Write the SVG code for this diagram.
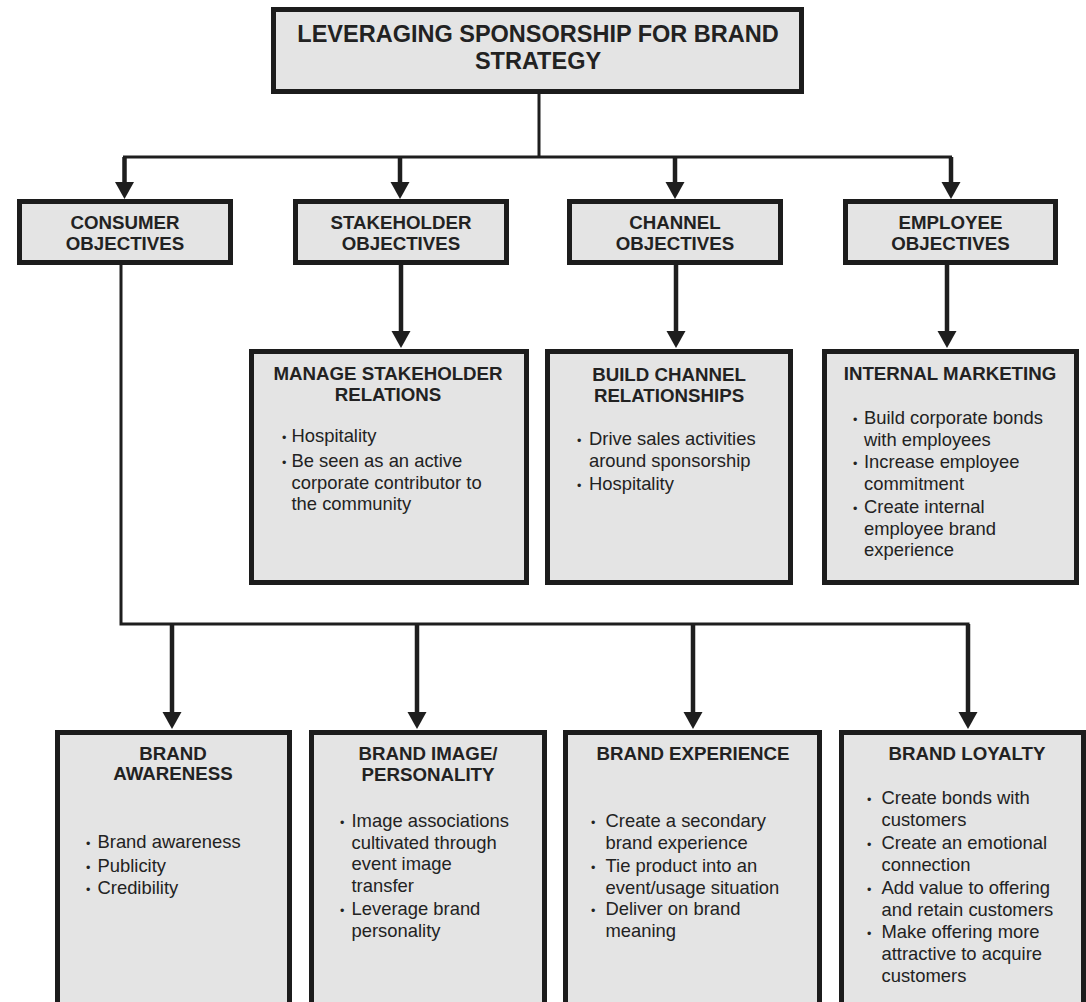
<svg xmlns="http://www.w3.org/2000/svg" xmlns:xlink="http://www.w3.org/1999/xlink" width="1086" height="1002" viewBox="0 0 1086 1002">
  <style>
    .box { fill: #e4e4e4; stroke: #1c1c1c; stroke-width: 5; }
    .line { fill: none; stroke: #1e1e1e; stroke-width: 3; }
    .shaft { fill: none; stroke: #1e1e1e; stroke-width: 4.5; }
    .head { fill: #1e1e1e; }
    text { font-family: "Liberation Sans", Arial, sans-serif; fill: #222; }
    .title { font-size: 23.5px; font-weight: bold; text-anchor: middle; }
    .hd { font-size: 18.7px; font-weight: bold; text-anchor: middle; }
    .body { font-size: 18.4px; }
    .dot { font-size: 12.5px; }
  </style>
  <defs>
    <!-- arrowhead with its tip at the origin, pointing down -->
    <path id="ah" class="head" d="M-9.5,-17 L9.5,-17 L0,0 Z"/>
  </defs>

  <rect width="1086" height="1002" fill="#ffffff"/>

  <!-- connectors -->
  <g id="connectors">
    <path class="line" d="M539,94 V157 M123,157 H952"/>
    <path class="shaft" d="M124.5,157 V184 M400,157 V184 M675,157 V184 M951,157 V184"/>
    <use xlink:href="#ah" x="124.5" y="199"/>
    <use xlink:href="#ah" x="400" y="199"/>
    <use xlink:href="#ah" x="675" y="199"/>
    <use xlink:href="#ah" x="951" y="199"/>

    <path class="shaft" d="M401,265 V332 M676,265 V332 M947,265 V332"/>
    <use xlink:href="#ah" x="401" y="348"/>
    <use xlink:href="#ah" x="676" y="348"/>
    <use xlink:href="#ah" x="947" y="348"/>

    <path class="line" d="M121,265 V624 H969.5"/>
    <path class="shaft" d="M172,624 V713 M417,624 V713 M693,624 V713 M968,624 V713"/>
    <use xlink:href="#ah" x="172" y="729"/>
    <use xlink:href="#ah" x="417" y="729"/>
    <use xlink:href="#ah" x="693" y="729"/>
    <use xlink:href="#ah" x="968" y="729"/>
  </g>

  <!-- root -->
  <g id="node-strategy">
    <rect class="box" x="273.5" y="9.5" width="528" height="82"/>
    <text class="title" x="538" y="42">LEVERAGING SPONSORSHIP FOR BRAND</text>
    <text class="title" x="538" y="68.5">STRATEGY</text>
  </g>

  <!-- objectives -->
  <g id="node-consumer-objectives">
    <rect class="box" x="19.5" y="201.5" width="211" height="61"/>
    <text class="hd" x="125" y="229">CONSUMER</text>
    <text class="hd" x="125" y="249.5">OBJECTIVES</text>
  </g>
  <g id="node-stakeholder-objectives">
    <rect class="box" x="295.5" y="201.5" width="211" height="61"/>
    <text class="hd" x="401" y="229">STAKEHOLDER</text>
    <text class="hd" x="401" y="249.5">OBJECTIVES</text>
  </g>
  <g id="node-channel-objectives">
    <rect class="box" x="569.5" y="201.5" width="211" height="61"/>
    <text class="hd" x="675" y="229">CHANNEL</text>
    <text class="hd" x="675" y="249.5">OBJECTIVES</text>
  </g>
  <g id="node-employee-objectives">
    <rect class="box" x="845.5" y="201.5" width="210" height="61"/>
    <text class="hd" x="950.5" y="229">EMPLOYEE</text>
    <text class="hd" x="950.5" y="249.5">OBJECTIVES</text>
  </g>

  <!-- second row -->
  <g id="node-stakeholder-relations">
    <rect class="box" x="251.5" y="351.5" width="275" height="231"/>
    <text class="hd" x="388" y="380">MANAGE STAKEHOLDER</text>
    <text class="hd" x="388" y="400.5">RELATIONS</text>
    <text class="dot" x="282" y="442">•</text>
    <text class="body" x="291.5" y="442">Hospitality</text>
    <text class="dot" x="282" y="467">•</text>
    <text class="body" x="291.5" y="467">Be seen as an active</text>
    <text class="body" x="291.5" y="489">corporate contributor to</text>
    <text class="body" x="291.5" y="510">the community</text>
  </g>
  <g id="node-channel-relationships">
    <rect class="box" x="547.5" y="351.5" width="243" height="231"/>
    <text class="hd" x="669" y="380.5">BUILD CHANNEL</text>
    <text class="hd" x="669" y="401.5">RELATIONSHIPS</text>
    <text class="dot" x="577" y="445">•</text>
    <text class="body" x="589" y="445">Drive sales activities</text>
    <text class="body" x="589" y="467">around sponsorship</text>
    <text class="dot" x="577" y="490">•</text>
    <text class="body" x="589" y="490">Hospitality</text>
  </g>
  <g id="node-internal-marketing">
    <rect class="box" x="824.5" y="351.5" width="252" height="231"/>
    <text class="hd" x="950" y="380">INTERNAL MARKETING</text>
    <text class="dot" x="853" y="424">•</text>
    <text class="body" x="864" y="424">Build corporate bonds</text>
    <text class="body" x="864" y="446">with employees</text>
    <text class="dot" x="853" y="468">•</text>
    <text class="body" x="864" y="468">Increase employee</text>
    <text class="body" x="864" y="490">commitment</text>
    <text class="dot" x="853" y="513">•</text>
    <text class="body" x="864" y="513">Create internal</text>
    <text class="body" x="864" y="534.5">employee brand</text>
    <text class="body" x="864" y="556">experience</text>
  </g>

  <!-- consumer outcomes -->
  <g id="node-brand-awareness">
    <rect class="box" x="57.5" y="732.5" width="232" height="272"/>
    <text class="hd" x="173" y="760">BRAND</text>
    <text class="hd" x="173" y="780">AWARENESS</text>
    <text class="dot" x="86" y="848">•</text>
    <text class="body" x="97.5" y="848">Brand awareness</text>
    <text class="dot" x="86" y="872">•</text>
    <text class="body" x="97.5" y="872">Publicity</text>
    <text class="dot" x="86" y="894">•</text>
    <text class="body" x="97.5" y="894">Credibility</text>
  </g>
  <g id="node-brand-image">
    <rect class="box" x="311.5" y="732.5" width="233" height="272"/>
    <text class="hd" x="428" y="760">BRAND IMAGE/</text>
    <text class="hd" x="428" y="781">PERSONALITY</text>
    <text class="dot" x="340" y="827">•</text>
    <text class="body" x="351.5" y="827">Image associations</text>
    <text class="body" x="351.5" y="848.5">cultivated through</text>
    <text class="body" x="351.5" y="870">event image</text>
    <text class="body" x="351.5" y="891.5">transfer</text>
    <text class="dot" x="340" y="915">•</text>
    <text class="body" x="351.5" y="915">Leverage brand</text>
    <text class="body" x="351.5" y="937">personality</text>
  </g>
  <g id="node-brand-experience">
    <rect class="box" x="565.5" y="732.5" width="254" height="272"/>
    <text class="hd" x="693" y="760">BRAND EXPERIENCE</text>
    <text class="dot" x="591" y="827">•</text>
    <text class="body" x="605.5" y="827">Create a secondary</text>
    <text class="body" x="605.5" y="848.5">brand experience</text>
    <text class="dot" x="591" y="872">•</text>
    <text class="body" x="605.5" y="872">Tie product into an</text>
    <text class="body" x="605.5" y="893.5">event/usage situation</text>
    <text class="dot" x="591" y="915">•</text>
    <text class="body" x="605.5" y="915">Deliver on brand</text>
    <text class="body" x="605.5" y="937">meaning</text>
  </g>
  <g id="node-brand-loyalty">
    <rect class="box" x="841.5" y="732.5" width="242" height="272"/>
    <text class="hd" x="967" y="760">BRAND LOYALTY</text>
    <text class="dot" x="867" y="804">•</text>
    <text class="body" x="881.5" y="804">Create bonds with</text>
    <text class="body" x="881.5" y="826">customers</text>
    <text class="dot" x="867" y="849">•</text>
    <text class="body" x="881.5" y="849">Create an emotional</text>
    <text class="body" x="881.5" y="871">connection</text>
    <text class="dot" x="867" y="894">•</text>
    <text class="body" x="881.5" y="894">Add value to offering</text>
    <text class="body" x="881.5" y="915.5">and retain customers</text>
    <text class="dot" x="867" y="938">•</text>
    <text class="body" x="881.5" y="938">Make offering more</text>
    <text class="body" x="881.5" y="960">attractive to acquire</text>
    <text class="body" x="881.5" y="982">customers</text>
  </g>
</svg>
